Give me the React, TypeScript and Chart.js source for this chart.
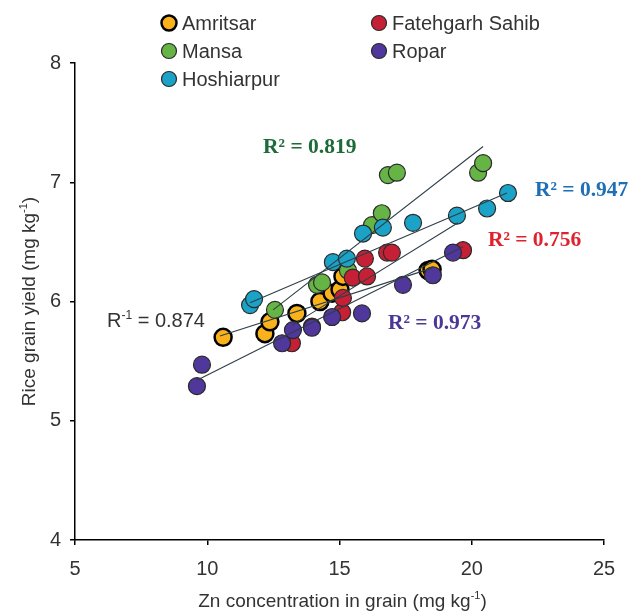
import React, { useEffect, useRef } from 'react';
import { Chart, registerables } from 'chart.js';

Chart.register(...registerables);

// ---------- data ----------
const amritsarX = [10.6, 12.18, 12.37, 13.39, 14.26, 14.72, 15.02, 15.13, 18.35, 18.5];
const amritsarY = [5.7, 5.73, 5.83, 5.9, 6.0, 6.07, 6.1, 6.21, 6.26, 6.27];

const fatehgarhX = [13.2, 13.96, 15.1, 15.13, 15.5, 16.04, 15.96, 16.8, 16.98, 19.67];
const fatehgarhY = [5.65, 5.79, 5.91, 6.03, 6.2, 6.21, 6.36, 6.41, 6.41, 6.43];

const mansaX = [12.56, 14.15, 14.34, 15.32, 16.23, 16.6, 16.83, 17.17, 20.24, 20.43];
const mansaY = [5.93, 6.14, 6.16, 6.26, 6.64, 6.74, 7.06, 7.08, 7.08, 7.16];

const roparX = [9.61, 9.8, 12.83, 13.24, 13.96, 14.72, 15.85, 17.4, 18.53, 19.29];
const roparY = [5.29, 5.47, 5.65, 5.76, 5.78, 5.87, 5.9, 6.14, 6.22, 6.41];

const hoshiarpurX = [11.62, 11.77, 14.75, 15.28, 15.89, 16.64, 17.78, 19.44, 20.58, 21.37];
const hoshiarpurY = [5.97, 6.02, 6.33, 6.36, 6.57, 6.62, 6.66, 6.72, 6.78, 6.91];

// trend line end points
const amritsarFitX = [10.48, 18.5];
const amritsarFitY = [5.71, 6.28];
const fatehgarhFitX = [13.2, 19.48];
const fatehgarhFitY = [5.8, 6.66];
const mansaFitX = [12.49, 20.43];
const mansaFitY = [5.93, 7.3];
const roparFitX = [9.61, 19.67];
const roparFitY = [5.34, 6.46];
const hoshiarpurFitX = [11.62, 21.33];
const hoshiarpurFitY = [5.99, 6.91];

const xTicks = [5, 10, 15, 20, 25];
const yTicks = [4, 5, 6, 7, 8];

const rLabels = ['R² = 0.819', 'R² = 0.947', 'R² = 0.756', 'R² = 0.973'];
const rLabelX = [12.11, 22.39, 20.61, 16.83];
const rLabelY = [7.29, 6.935, 6.516, 5.82];
const rLabelColors = ['#1E6B3A', '#1F6FB4', '#E0222E', '#4B3797'];

const SANS = '"Liberation Sans", Arial, sans-serif';
const SERIF = '"Liberation Serif", "Times New Roman", serif';

type Part = { text: string; sup?: boolean };

function drawRich(
  ctx: CanvasRenderingContext2D,
  parts: Part[],
  x: number,
  y: number,
  size: number,
  family: string,
  weight: string,
  color: string,
  align: 'left' | 'center'
) {
  ctx.save();
  ctx.fillStyle = color;
  ctx.textBaseline = 'middle';
  ctx.textAlign = 'left';
  const mainFont = `${weight} ${size}px ${family}`;
  const supFont = `${weight} ${Math.round(size * 0.6)}px ${family}`;
  let total = 0;
  for (const p of parts) {
    ctx.font = p.sup ? supFont : mainFont;
    total += ctx.measureText(p.text).width;
  }
  let cx = align === 'center' ? x - total / 2 : x;
  for (const p of parts) {
    ctx.font = p.sup ? supFont : mainFont;
    ctx.fillText(p.text, cx, p.sup ? y - size * 0.32 : y);
    cx += ctx.measureText(p.text).width;
  }
  ctx.restore();
}

const series = [
  { name: 'Amritsar', xs: amritsarX, ys: amritsarY, fx: amritsarFitX, fy: amritsarFitY, color: '#F9B21B', border: '#000000', bw: 2.5, order: 5 },
  { name: 'Fatehgarh Sahib', xs: fatehgarhX, ys: fatehgarhY, fx: fatehgarhFitX, fy: fatehgarhFitY, color: '#C62036', border: '#2a2a2a', bw: 1.2, order: 2 },
  { name: 'Mansa', xs: mansaX, ys: mansaY, fx: mansaFitX, fy: mansaFitY, color: '#66B446', border: '#2a2a2a', bw: 1.2, order: 4 },
  { name: 'Ropar', xs: roparX, ys: roparY, fx: roparFitX, fy: roparFitY, color: '#50379B', border: '#2a2a2a', bw: 1.2, order: 1 },
  { name: 'Hoshiarpur', xs: hoshiarpurX, ys: hoshiarpurY, fx: hoshiarpurFitX, fy: hoshiarpurFitY, color: '#1AA3C6', border: '#2a2a2a', bw: 1.2, order: 3 },
];

const legendLayout = [
  { idx: 0, col: 0, row: 0 },
  { idx: 1, col: 1, row: 0 },
  { idx: 2, col: 0, row: 1 },
  { idx: 3, col: 1, row: 1 },
  { idx: 4, col: 0, row: 2 },
];

const overlayPlugin = {
  id: 'overlay',
  afterDraw(chart: any) {
    const ctx: CanvasRenderingContext2D = chart.ctx;
    const xs = chart.scales.x;
    const ys = chart.scales.y;
    const area = chart.chartArea;

    // legend
    for (const item of legendLayout) {
      const s = series[item.idx];
      const cx = 169 + item.col * 210;
      const cy = 23 + item.row * 28;
      ctx.save();
      ctx.beginPath();
      ctx.arc(cx, cy, 7.5, 0, Math.PI * 2);
      ctx.fillStyle = s.color;
      ctx.fill();
      ctx.lineWidth = s.bw;
      ctx.strokeStyle = s.border;
      ctx.stroke();
      ctx.restore();
      drawRich(ctx, [{ text: s.name }], cx + 13, cy + 1, 20, SANS, 'normal', '#333333', 'left');
    }

    // R² labels
    for (let i = 0; i < rLabels.length; i++) {
      drawRich(
        ctx,
        [{ text: rLabels[i] }],
        xs.getPixelForValue(rLabelX[i]),
        ys.getPixelForValue(rLabelY[i]),
        21.5,
        SERIF,
        'bold',
        rLabelColors[i],
        'left'
      );
    }
    drawRich(
      ctx,
      [{ text: 'R' }, { text: '-1', sup: true }, { text: ' = 0.874' }],
      xs.getPixelForValue(6.21),
      ys.getPixelForValue(5.83),
      20,
      SANS,
      'normal',
      '#333333',
      'left'
    );

    // axis titles
    drawRich(
      ctx,
      [{ text: 'Zn concentration in grain (mg kg' }, { text: '-1', sup: true }, { text: ')' }],
      (area.left + area.right) / 2 + 3,
      602,
      19,
      SANS,
      'normal',
      '#333333',
      'center'
    );
    ctx.save();
    ctx.translate(30, (area.top + area.bottom) / 2);
    ctx.rotate(-Math.PI / 2);
    drawRich(
      ctx,
      [{ text: 'Rice grain yield (mg kg' }, { text: '-1', sup: true }, { text: ')' }],
      0,
      0,
      19,
      SANS,
      'normal',
      '#333333',
      'center'
    );
    ctx.restore();
  },
};

export default function App() {
  const canvasRef = useRef<HTMLCanvasElement | null>(null);

  useEffect(() => {
    if (!canvasRef.current) return;
    const datasets: any[] = [];
    series.forEach((s) => {
      datasets.push({
        label: s.name + ' fit',
        data: s.fx.map((x, i) => ({ x, y: s.fy[i] })),
        showLine: true,
        borderColor: '#2E3F48',
        borderWidth: 1.1,
        pointRadius: 0,
        order: 0,
      });
    });
    series.forEach((s) => {
      datasets.push({
        label: s.name,
        data: s.xs.map((x, i) => ({ x, y: s.ys[i] })),
        showLine: false,
        pointRadius: 8.5,
        pointBackgroundColor: s.color,
        pointBorderColor: s.border,
        pointBorderWidth: s.bw,
        order: s.order,
      });
    });

    const chart = new Chart(canvasRef.current, {
      type: 'scatter',
      data: { datasets },
      options: {
        animation: false,
        responsive: false,
        devicePixelRatio: 1,
        events: [],
        layout: { padding: { top: 63, right: 28, left: 0, bottom: 0 } },
        plugins: { legend: { display: false }, tooltip: { enabled: false } },
        scales: {
          x: {
            type: 'linear',
            min: xTicks[0],
            max: xTicks[xTicks.length - 1],
            afterBuildTicks: (scale: any) => {
              scale.ticks = xTicks.map((v) => ({ value: v }));
            },
            afterFit: (scale: any) => {
              scale.height = 72;
            },
            grid: { display: true, drawOnChartArea: false, drawTicks: true, tickLength: 5, color: '#000', lineWidth: 1.5 },
            border: { display: true, color: '#000', width: 1.5 },
            ticks: { color: '#333333', font: { family: SANS, size: 20 }, padding: 12, maxRotation: 0 },
          },
          y: {
            type: 'linear',
            min: yTicks[0],
            max: yTicks[yTicks.length - 1],
            afterBuildTicks: (scale: any) => {
              scale.ticks = yTicks.map((v) => ({ value: v }));
            },
            afterFit: (scale: any) => {
              scale.width = 75;
            },
            grid: { display: true, drawOnChartArea: false, drawTicks: true, tickLength: 5, color: '#000', lineWidth: 1.5 },
            border: { display: true, color: '#000', width: 1.5 },
            ticks: { color: '#333333', font: { family: SANS, size: 20 }, padding: 9 },
          },
        },
      },
      plugins: [overlayPlugin],
    });
    return () => chart.destroy();
  }, []);

  return (
    <div style={{ position: 'fixed', left: 0, top: 0, width: 632, height: 612, background: '#fff' }}>
      <canvas ref={canvasRef} width={632} height={612} style={{ display: 'block' }} />
    </div>
  );
}
